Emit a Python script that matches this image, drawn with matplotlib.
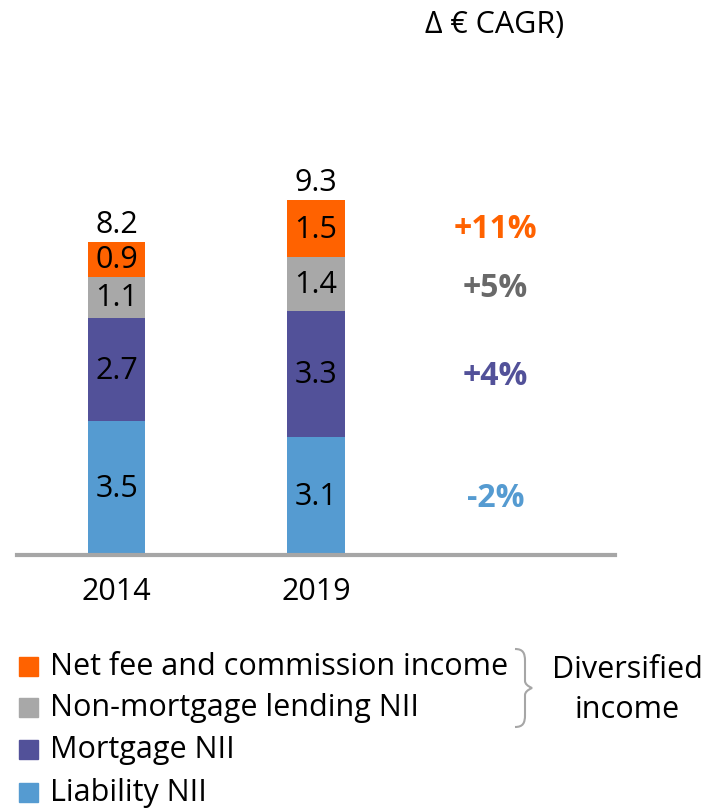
import matplotlib
matplotlib.use("Agg")
import matplotlib.pyplot as plt
from matplotlib.path import Path
from matplotlib.patches import PathPatch, Rectangle

years = ["2014", "2019"]
liability = [3.5, 3.1]
mortgage = [2.7, 3.3]
non_mortgage = [1.1, 1.4]
fees = [0.9, 1.5]
totals = [8.2, 9.3]

series_names = ["Liability NII", "Mortgage NII", "Non-mortgage lending NII", "Net fee and commission income"]
series_colors = ["#559BD1", "#525199", "#A8A8A8", "#FF6200"]
cagr_labels = ["-2%", "+4%", "+5%", "+11%"]
cagr_colors = ["#559BD1", "#525199", "#696969", "#FF6200"]
cagr_y = [1.5, 4.7, 7.0, 8.55]

plt.rcParams['font.family'] = ['Open Sans', 'DejaVu Sans']
FS = 22

W, H = 703, 812
fig = plt.figure(figsize=(W / 100, H / 100), dpi=100)
ax = fig.add_axes([17 / W, 256 / H, 598 / W, 381.5 / H])

x = [0, 1]
bw = 0.286
bottom = [0, 0]
for vals, col in zip([liability, mortgage, non_mortgage, fees], series_colors):
    ax.bar(x, vals, bw, bottom=bottom, color=col, linewidth=0)
    for xi, v, b in zip(x, vals, bottom):
        ax.text(xi, b + v / 2, f"{v:.1f}", ha="center", va="center", fontsize=FS, color="black")
    bottom = [b + v for b, v in zip(bottom, vals)]

for xi, t in zip(x, totals):
    ax.text(xi, t + 0.08, f"{t:.1f}", ha="center", va="bottom", fontsize=FS, color="black")

for lab, col, yy in zip(cagr_labels, cagr_colors, cagr_y):
    ax.text(1.9, yy, lab, ha="center", va="center", fontsize=FS + 1, color=col, fontweight="bold")

ax.set_xlim(-0.5, 2.5)
ax.set_ylim(0, 10)
ax.set_xticks(x)
ax.set_xticklabels(years, fontsize=FS)
ax.tick_params(axis="x", length=0, pad=15)
ax.set_yticks([])
for s in ["top", "left", "right"]:
    ax.spines[s].set_visible(False)
ax.spines["bottom"].set_color("#A6A6A6")
ax.spines["bottom"].set_linewidth(3)

fig.text(495 / W, 1 - 25 / H, "Δ € CAGR)", ha="center", va="center", fontsize=FS)

# legend
leg_y = [793, 750, 708, 667]
for name, col, yy in zip(series_names, series_colors, leg_y):
    fig.patches.append(Rectangle((19 / W, 1 - (yy + 9.5) / H), 19 / W, 19 / H,
                                 transform=fig.transFigure, color=col, figure=fig))
    fig.text(50 / W, 1 - yy / H, name, ha="left", va="center", fontsize=FS)

# brace around the diversified income items
pts = [(515, 650), (523, 650), (525, 654), (525, 662),
       (525, 682), (525, 686), (532, 689),
       (525, 692), (525, 696), (525, 716),
       (525, 724), (523, 728), (515, 728)]
codes = [Path.MOVETO, Path.CURVE4, Path.CURVE4, Path.CURVE4,
         Path.LINETO, Path.CURVE3, Path.CURVE3,
         Path.CURVE3, Path.CURVE3, Path.LINETO,
         Path.CURVE4, Path.CURVE4, Path.CURVE4]
verts = [(px / W, 1 - py / H) for px, py in pts]
fig.patches.append(PathPatch(Path(verts, codes), transform=fig.transFigure, fill=False,
                             edgecolor="#A6A6A6", linewidth=1.5, figure=fig))
fig.text(627 / W, 1 - 670 / H, "Diversified", ha="center", va="center", fontsize=FS)
fig.text(627 / W, 1 - 710 / H, "income", ha="center", va="center", fontsize=FS)

fig.savefig("out.png", dpi=100)
